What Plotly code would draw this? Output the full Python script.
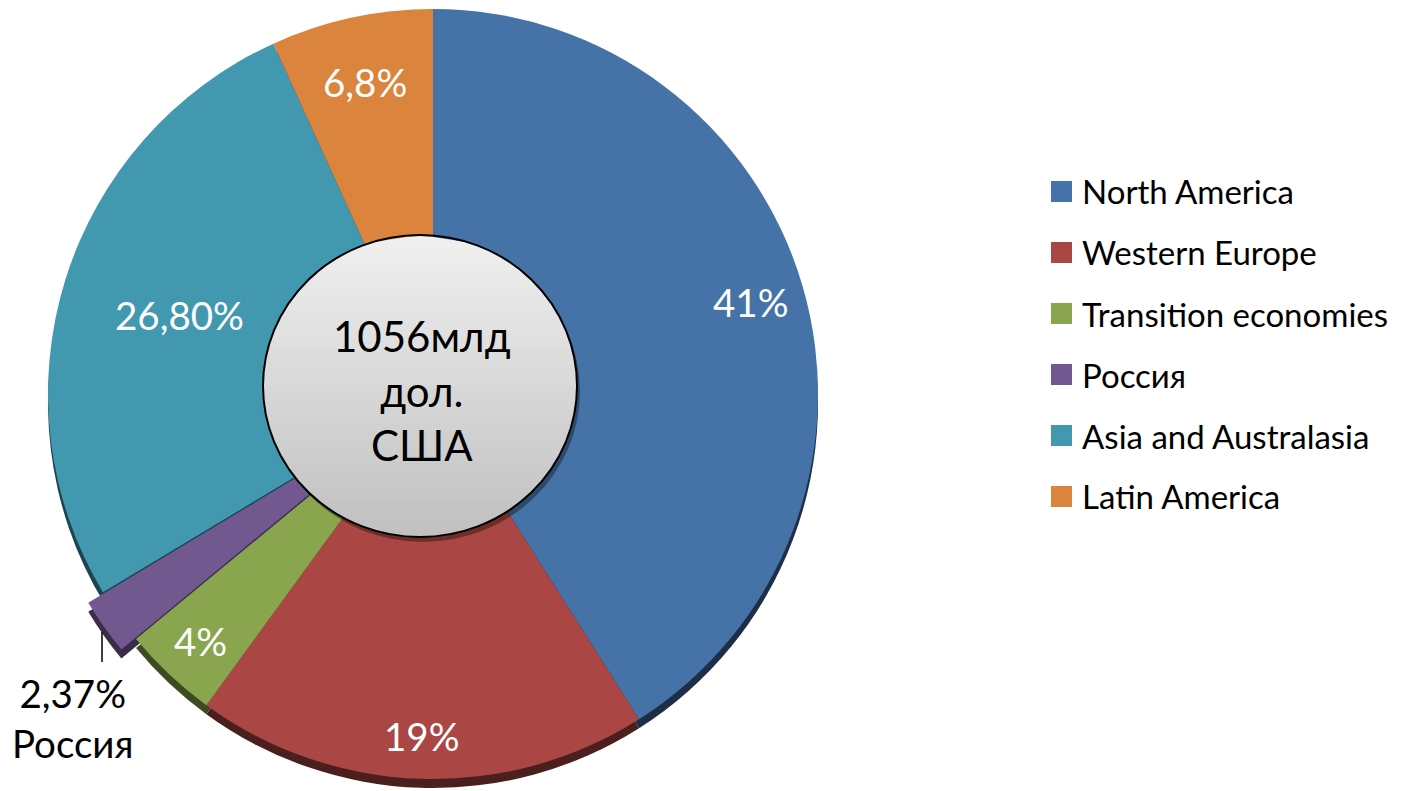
import math
import plotly.graph_objects as go

# ---- data ----
labels = ["North America", "Western Europe", "Transition economies", "Россия",
          "Asia and Australasia", "Latin America"]
values = [41, 19, 4, 2.37, 26.8, 6.8]
slice_text = ["41%", "19%", "4%", "2,37%", "26,80%", "6,8%"]
colors = ["#4572A7", "#AA4643", "#89A54E", "#71588F", "#4198AF", "#DB843D"]
rim_colors = ["#1D2F47", "#4A1F1D", "#3E4A22", "#3A2D4A", "#1D4550", "#63391A"]
pulled_label = "Россия"
center_text = ["1056млд", "дол.", "США"]

# ---- layout geometry (page pixels) ----
W, H = 1410, 791
OFF = 8            # default body margin of the html page
FONT = "Lato"

def px(x):
    return (x - OFF) / W

def py(y):
    return 1 - (y - OFF) / H

def dom(cx, cy, r):
    return dict(x=[px(cx - r), px(cx + r)], y=[py(cy + r), py(cy - r)])

CX, CY, R = 433, 394, 385
RIM = 9
PULL = 18
label_rfrac = [0.86, 0.89, 0.88, None, 0.69, 0.83]

total = sum(values)
mid_angles = []
acc = 0.0
for v in values:
    mid_angles.append((acc + v / 2) / total * 360.0)
    acc += v

ip = labels.index(pulled_label)
th = math.radians(mid_angles[ip])
pcx = CX + PULL * math.sin(th)
pcy = CY - PULL * math.cos(th)

clear = "rgba(0,0,0,0)"
main_cols = [c if i != ip else clear for i, c in enumerate(colors)]
main_rim = [c if i != ip else clear for i, c in enumerate(rim_colors)]
pull_cols = [c if i == ip else clear for i, c in enumerate(colors)]
pull_rim = [c if i == ip else clear for i, c in enumerate(rim_colors)]

def pie(cols, domain, hover=True):
    return go.Pie(labels=labels, values=values, textinfo="none",
                  marker=dict(colors=cols, line=dict(width=0)),
                  sort=False, direction="clockwise", rotation=0,
                  domain=domain, showlegend=False,
                  hoverinfo="label+percent" if hover else "skip")

fig = go.Figure()
fig.add_trace(pie(main_rim, dom(CX, CY + RIM, R), hover=False))
fig.add_trace(pie(pull_rim, dom(pcx, pcy + RIM, R), hover=False))
fig.add_trace(pie(main_cols, dom(CX, CY, R)))
fig.add_trace(pie(pull_cols, dom(pcx, pcy, R), hover=False))

shapes = []
annotations = []

# slice percentage labels
for i, (t, f) in enumerate(zip(slice_text, label_rfrac)):
    if f is None:
        continue
    a = math.radians(mid_angles[i])
    annotations.append(dict(text=t, x=px(CX + f * R * math.sin(a)),
                            y=py(CY - f * R * math.cos(a)),
                            xref="paper", yref="paper", showarrow=False,
                            xanchor="center", yanchor="middle",
                            font=dict(family=FONT, size=38.5, color="white")))

# centre ellipse: shadow + vertical gradient + outline
ecx, ecy, erx, ery = 420, 386, 157, 151

def ellipse_part(y0, y1, cx, cy, rx, ry, steps=40):
    pr, pl = [], []
    for s in range(steps + 1):
        yy = y0 + (y1 - y0) * s / steps
        t = max(0.0, 1 - ((yy - cy) / ry) ** 2)
        half = rx * math.sqrt(t)
        pr.append((cx + half, yy))
        pl.append((cx - half, yy))
    pts = pr + pl[::-1]
    return "M " + " L ".join(f"{px(a):.5f},{py(b):.5f}" for a, b in pts) + " Z"

shapes.append(dict(type="circle", xref="paper", yref="paper",
                   x0=px(ecx - erx + 3), x1=px(ecx + erx + 3),
                   y0=py(ecy + ery + 5), y1=py(ecy - ery + 5),
                   fillcolor="rgba(0,0,0,0.35)", line=dict(width=0), layer="above"))
N = 40
for k in range(N):
    y0 = ecy - ery + 2 * ery * k / N
    y1 = ecy + ery
    g = int(round(0xF0 + (0xC0 - 0xF0) * (k + 0.5) / N))
    col = f"rgb({g},{g},{g})"
    shapes.append(dict(type="path", path=ellipse_part(y0, y1, ecx, ecy, erx, ery),
                       xref="paper", yref="paper", fillcolor=col,
                       line=dict(width=0), layer="above"))
shapes.append(dict(type="circle", xref="paper", yref="paper",
                   x0=px(ecx - erx), x1=px(ecx + erx), y0=py(ecy + ery), y1=py(ecy - ery),
                   line=dict(color="black", width=2), fillcolor=clear, layer="above"))
annotations.append(dict(text="<br>".join(center_text), x=px(422), y=py(390),
                        xref="paper", yref="paper", showarrow=False,
                        font=dict(family=FONT, size=42, color="black"),
                        xanchor="center", yanchor="middle", align="center"))

# outside label of the pulled slice with leader line
shapes.append(dict(type="line", xref="paper", yref="paper",
                   x0=px(102), x1=px(102), y0=py(632), y1=py(662),
                   line=dict(color="black", width=1.5), layer="above"))
annotations.append(dict(text=f"{slice_text[ip]}<br>{pulled_label}",
                        x=px(73), y=py(718), xref="paper", yref="paper",
                        showarrow=False, font=dict(family=FONT, size=38.5, color="black"),
                        xanchor="center", yanchor="middle", align="center"))

# legend
leg_y0, leg_dy = 191.5, 61
for i, (lab, col) in enumerate(zip(labels, colors)):
    yc = leg_y0 + i * leg_dy
    shapes.append(dict(type="rect", xref="paper", yref="paper",
                       x0=px(1051), x1=px(1072), y0=py(yc + 10.5), y1=py(yc - 10.5),
                       fillcolor=col, line=dict(width=0)))
    annotations.append(dict(text=lab, x=px(1080), y=py(yc), xref="paper", yref="paper",
                            showarrow=False, xanchor="left", yanchor="middle",
                            font=dict(family=FONT, size=33, color="black")))

fig.update_layout(
    width=W, height=H, margin=dict(l=0, r=0, t=0, b=0),
    paper_bgcolor="white", plot_bgcolor="white",
    shapes=shapes, annotations=annotations, showlegend=False,
)
fig.write_html("out.html")
